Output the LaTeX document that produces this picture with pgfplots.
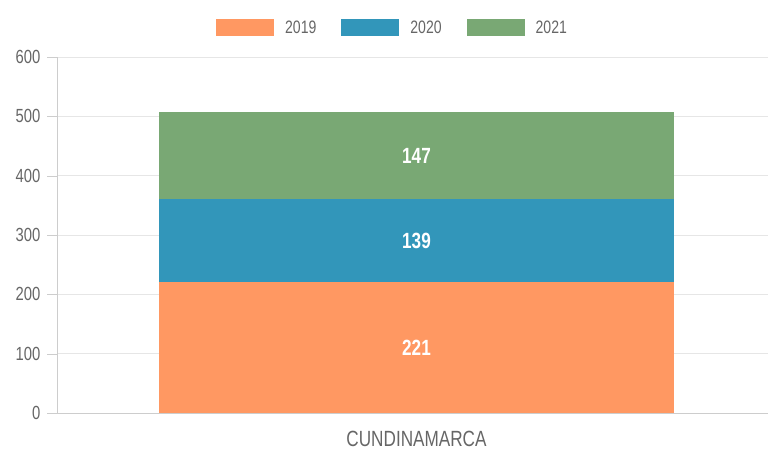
\documentclass[border=0pt]{standalone}
\usepackage{pgfplots}
\pgfplotsset{compat=1.18}
\usepackage{fontspec}
\setmainfont{Liberation Sans}[FakeStretch=0.78]
\definecolor{c2019}{RGB}{255,152,98}
\definecolor{c2020}{RGB}{50,150,186}
\definecolor{c2021}{RGB}{121,168,116}
\definecolor{txt}{RGB}{102,102,102}
\definecolor{gridc}{RGB}{230,230,230}
\definecolor{axc}{RGB}{205,205,205}
\begin{document}
\begin{tikzpicture}
\useasboundingbox (-57pt,-37pt) rectangle (711pt,413pt);
\begin{axis}[
  at={(0,0)}, anchor=south west,
  scale only axis, width=711pt, height=356pt,
  xmin=-1.0113, xmax=0.9887,
  ymin=0, ymax=600,
  ytick={0,100,...,600},
  xtick={0}, xticklabels={CUNDINAMARCA},
  axis x line*=bottom, axis y line*=left,
  axis line style={draw=axc, -},
  ymajorgrids, grid style={draw=gridc, line width=1pt},
  major tick length=10pt, tick align=outside,
  ytick style={draw=axc},
  xtick style={draw=none},
  /pgf/number format/assume math mode=true,
  yticklabel style={font=\fontsize{19}{20}\selectfont, text=txt, xshift=-3pt},
  xticklabel style={font=\fontsize{22}{24}\selectfont, text=txt, yshift=-5pt},
  ybar stacked, bar width=515pt,
  legend columns=3,
  legend style={at={(0.4705,1.0815)}, anchor=center, draw=none, fill=none,
    font=\fontsize{18}{20}\selectfont, text=txt, inner sep=0pt,
    nodes={inner sep=0pt},
    /tikz/every even column/.append style={column sep=25pt},
    /tikz/every odd column/.append style={column sep=11pt}},
  legend image code/.code={\fill[#1] (0pt,-8.5pt) rectangle (58pt,8.5pt);},
  nodes near coords, point meta=rawy,
  every node near coord/.append style={font=\fontsize{22}{24}\selectfont\bfseries, text=white, anchor=center},
]
\addplot[fill=c2019, draw=none] coordinates {(0,221)};
\addplot[fill=c2020, draw=none] coordinates {(0,139)};
\addplot[fill=c2021, draw=none] coordinates {(0,147)};
\legend{2019,2020,2021}
\end{axis}
\end{tikzpicture}
\end{document}
